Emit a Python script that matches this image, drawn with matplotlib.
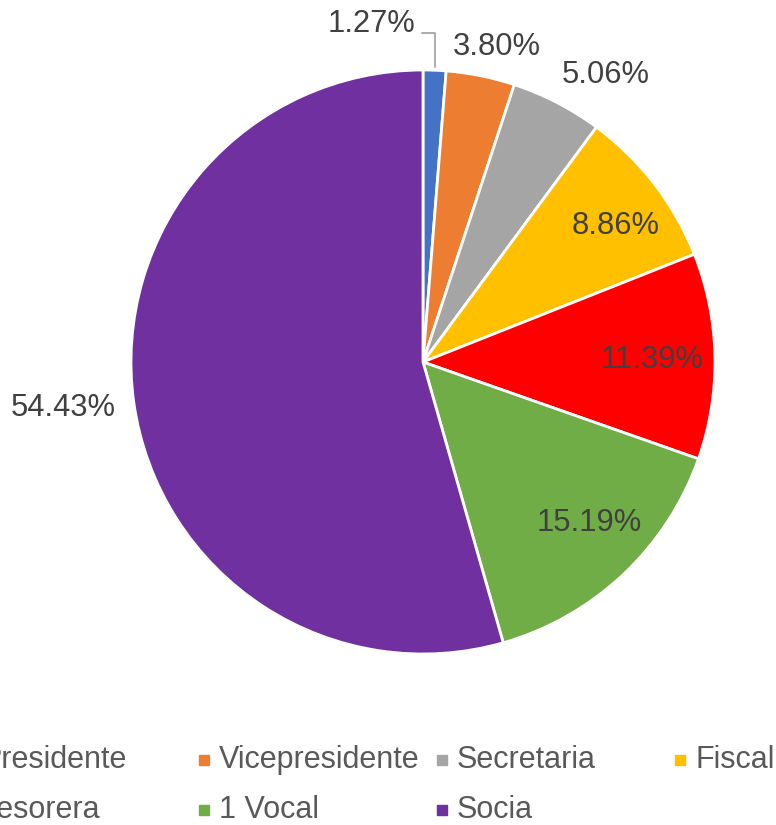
import numpy as np
from matplotlib import pyplot as plt
from matplotlib.lines import Line2D

plt.rcParams['font.family'] = ['Liberation Sans', 'DejaVu Sans']

# data
cargos = ['Presidente', 'Vicepresidente', 'Secretaria', 'Fiscal', 'Tesorera', '1 Vocal', 'Socia']
conteo = [1, 3, 4, 7, 9, 12, 43]
colores = ['#4472C4', '#ED7D31', '#A5A5A5', '#FFC000', '#FF0000', '#70AD47', '#7030A0']

# label placement (data units, pie radius = 1)
label_xy = [(-0.178, 1.158), (0.253, 1.079), (0.627, 0.983), (0.658, 0.466),
            (0.784, 0.007), (0.568, -0.551), (-1.233, -0.158)]

W, H = 776, 825
fig = plt.figure(figsize=(W / 100, H / 100), dpi=100)

cx, cy, r = 423, 362, 292
ax = fig.add_axes([(cx - r) / W, (H - cy - r) / H, 2 * r / W, 2 * r / H])

total = sum(conteo)
pct = [100 * c / total for c in conteo]

wedges, _ = ax.pie(conteo, colors=colores, startangle=90, counterclock=False,
                   wedgeprops=dict(edgecolor='white', linewidth=2.0))
ax.set_xlim(-1, 1)
ax.set_ylim(-1, 1)
ax.set_aspect('auto')
ax.axis('off')

for i, (p, (x, y)) in enumerate(zip(pct, label_xy)):
    ax.text(x, y, f'{p:.2f}%', ha='center', va='center', fontsize=22.2,
            color='#404040', clip_on=False)

# leader line for the smallest slice
w = wedges[0]
mid = np.deg2rad((w.theta1 + w.theta2) / 2)
ax.annotate('', xy=(np.cos(mid), np.sin(mid) + 0.01), xytext=(-0.003, 1.127),
            arrowprops=dict(arrowstyle='-', color='#A6A6A6', lw=1.3,
                            shrinkA=0, shrinkB=0,
                            connectionstyle='angle,angleA=0,angleB=90,rad=0'),
            annotation_clip=False)

# legend (equal column widths, first column cut off at the left edge)
x0, dx = -34, 238
rows_y = [760, 810]
for i, (lab, col) in enumerate(zip(cargos, colores)):
    cx_m = x0 + (i % 4) * dx
    y = rows_y[i // 4]
    fig.add_artist(Line2D([cx_m / W], [1 - y / H], marker='s', markersize=7.2,
                          color=col, linestyle='none', transform=fig.transFigure))
    fig.text((cx_m + 15) / W, 1 - y / H, lab, ha='left', va='center',
             fontsize=22.0, color='#595959')

fig.savefig('out.png', dpi=100)
